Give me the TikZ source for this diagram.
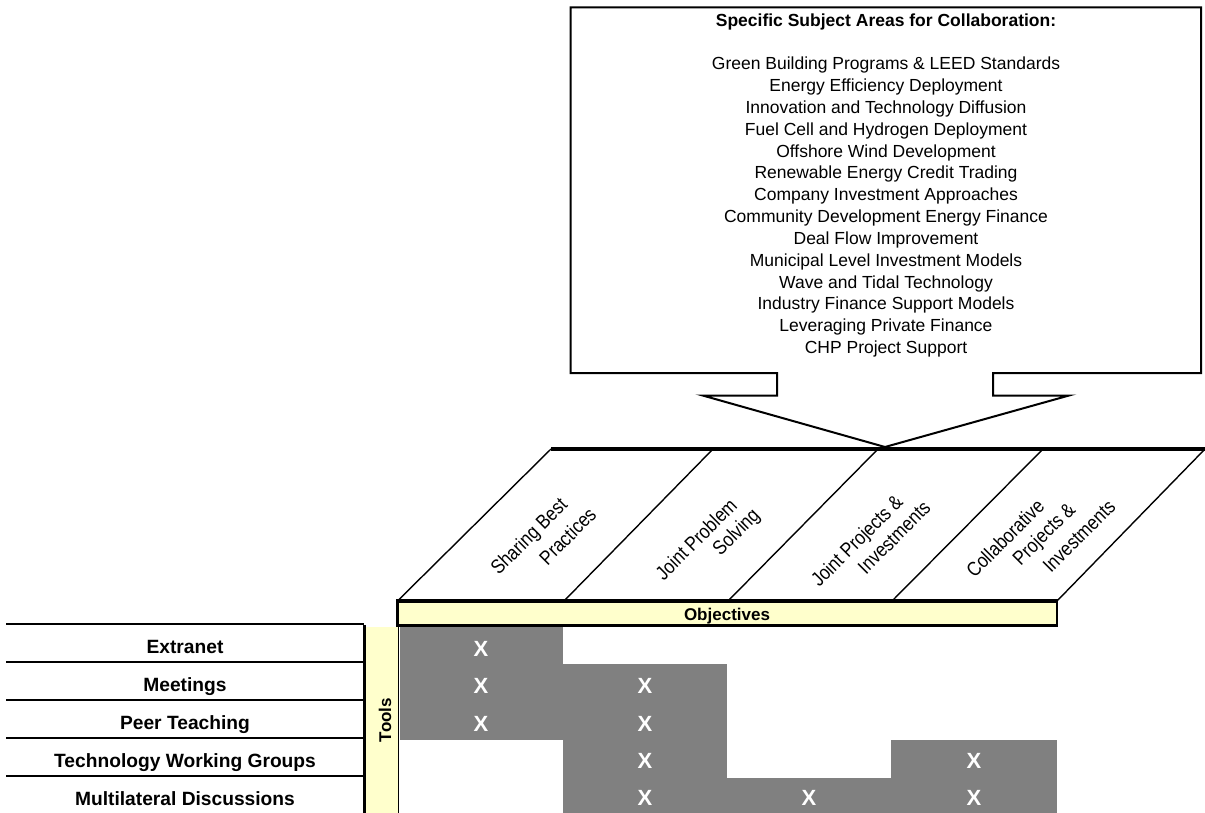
\documentclass[tikz,border=0pt]{standalone}
\usepackage{fontspec}
\usepackage{graphicx}
\setmainfont{Liberation Sans}
\definecolor{paleyellow}{HTML}{FFFFCC}
\definecolor{cellgray}{HTML}{808080}
\newcommand{\narrowtxt}[1]{\scalebox{0.86}[1]{#1}}
\begin{document}
\begin{tikzpicture}[x=1pt,y=-1pt,
  boxtext/.style={font=\fontsize{17.5}{21}\selectfont, anchor=base, inner sep=0pt},
  boxtitle/.style={font=\fontsize{17.5}{21}\selectfont\bfseries, anchor=base, inner sep=0pt},
  rowlabel/.style={font=\fontsize{19.2}{22}\selectfont\bfseries, anchor=base, inner sep=0pt},
  barlabel/.style={font=\fontsize{17}{20}\selectfont\bfseries, anchor=base, inner sep=0pt},
  xmark/.style={font=\fontsize{22}{24}\selectfont\bfseries, text=white, anchor=base, inner sep=0pt},
  hdr/.style={font=\fontsize{20}{22}\selectfont, rotate=45, inner sep=0pt, anchor=center},
  outline/.style={draw=black, line width=2pt},
  diag/.style={draw=black, line width=1.4pt},
  rowline/.style={draw=black, line width=2.5pt},
  cell/.style={fill=cellgray}
]
\useasboundingbox (0,0) rectangle (1205,813);

% callout box
\draw[outline, fill=white, line join=miter]
  (570.7,7.3) -- (1201,7.3) -- (1201,373) -- (993,373) -- (993,395.5)
  -- (1069,395.5) -- (885,447) -- (702.7,395.5) -- (777,395.5)
  -- (777,373) -- (570.7,373) -- cycle;
\node[boxtitle] (title) at (886,27) {Specific Subject Areas for Collaboration:};
\foreach \t [count=\i from 0] in {
  Green Building Programs \& LEED Standards,
  Energy Efficiency Deployment,
  Innovation and Technology Diffusion,
  Fuel Cell and Hydrogen Deployment,
  Offshore Wind Development,
  Renewable Energy Credit Trading,
  Company Investment Approaches,
  Community Development Energy Finance,
  Deal Flow Improvement,
  Municipal Level Investment Models,
  Wave and Tidal Technology,
  Industry Finance Support Models,
  Leveraging Private Finance,
  CHP Project Support}
  { \node[boxtext] (area\i) at (886,{70+21.8*\i}) {\t}; }

% header parallelograms
\draw[line width=4.5pt] (551,449) -- (1210,449);
\foreach \b/\t [count=\k] in {397.5/551, 564/713, 728/878, 892/1043, 1057/1205}
  { \draw[diag] (\b,601) -- (\t,449); }

\node[hdr] (h1a) at (530,537.5) {\narrowtxt{Sharing Best}};
\node[hdr] (h1b) at (567.5,536) {\narrowtxt{Practices}};
\node[hdr] (h2a) at (696,539) {\narrowtxt{Joint Problem}};
\node[hdr] (h2b) at (737,533) {\narrowtxt{Solving}};
\node[hdr] (h3a) at (858,542) {\narrowtxt{Joint Projects \&}};
\node[hdr] (h3b) at (894,537.5) {\narrowtxt{Investments}};
\node[hdr] (h4a) at (1005,538) {\narrowtxt{Collaborative}};
\node[hdr] (h4b) at (1045,535) {\narrowtxt{Projects \&}};
\node[hdr] (h4c) at (1079,536) {\narrowtxt{Investments}};

% objectives bar
\fill[paleyellow] (397.5,601) rectangle (1057,625.5);
\draw[line width=2.3pt] (397.5,601) -- (397.5,625.5) -- (1057,625.5) -- (1057,601);
\draw[line width=3.8pt] (396,601) -- (1058,601);
\node[barlabel] (objectives) at (727,620) {Objectives};

% cells
\foreach \xa/\xb/\ya/\yb/\xc/\yc/\n in {
  399.5/563/626.5/664/481/656/c11,
  399.5/563/664/701.5/481/693/c21,
  563/727/664/701.5/645/693/c22,
  399.5/563/701.5/739.5/481/731/c31,
  563/727/701.5/739.5/645/731/c32,
  563/727/739.5/777.5/645/768/c42,
  891/1057/739.5/777.5/974/768/c44,
  563/727/777.5/815/645/805/c52,
  727/891/777.5/815/809/805/c53,
  891/1057/777.5/815/974/805/c54}
  { \fill[cell] (\xa,\ya) rectangle (\xb,\yb);
    \node[xmark] (\n) at (\xc,\yc) {X}; }

% tools bar
\fill[paleyellow] (364,626.5) rectangle (399,815);
\draw[line width=3pt] (364,625) -- (364,815);
\draw[line width=1.5pt] (398.5,625.5) -- (398.5,815);
\node[barlabel, rotate=90] (tools) at (391,720) {Tools};

% row lines and labels
\foreach \y in {624,662,700,738,776}
  { \draw[rowline] (6,\y) -- (364,\y); }
\node[rowlabel] (extranet) at (185,653) {Extranet};
\node[rowlabel] (meetings) at (185,691) {Meetings};
\node[rowlabel] (peer) at (185,729) {Peer Teaching};
\node[rowlabel] (twg) at (185,767) {Technology Working Groups};
\node[rowlabel] (multi) at (185,805) {Multilateral Discussions};
\end{tikzpicture}
\end{document}
